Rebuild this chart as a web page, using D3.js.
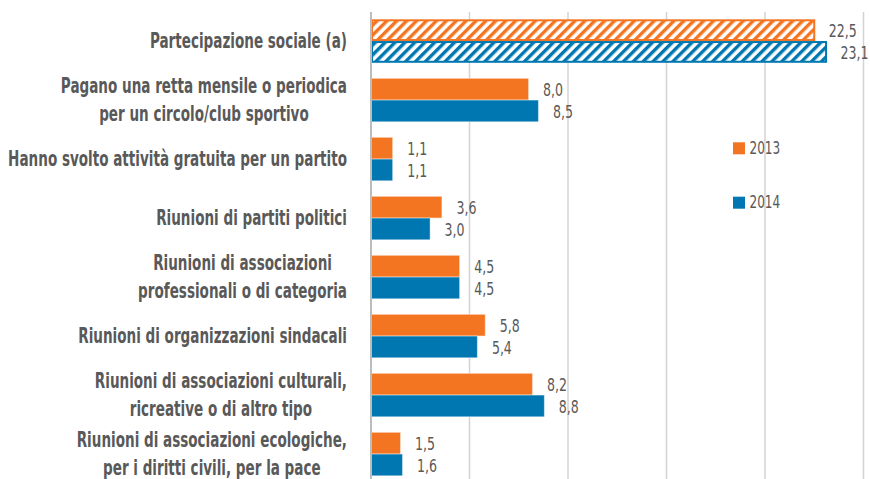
<!DOCTYPE html>
<html>
<head>
<meta charset="utf-8">
<script src="https://cdn.jsdelivr.net/npm/d3@7"></script>
<style>
  html, body { margin: 0; padding: 0; background: #fff; }
  svg { display: block; }
</style>
</head>
<body>
<svg id="chart" width="870" height="479"></svg>
<script>
// Social participation indicators, 2013 vs 2014 (percentages)
const categories = [
  "Partecipazione sociale (a)",
  "Pagano una retta mensile o periodica\nper un circolo/club sportivo",
  "Hanno svolto attività gratuita per un partito",
  "Riunioni di partiti politici",
  "Riunioni di associazioni\nprofessionali o di categoria",
  "Riunioni di organizzazioni sindacali",
  "Riunioni di associazioni culturali,\nricreative o di altro tipo",
  "Riunioni di associazioni ecologiche,\nper i diritti civili, per la pace"
];
const series = ["2013", "2014"];
const values2013 = [22.5, 8.0, 1.1, 3.6, 4.5, 5.8, 8.2, 1.5];
const values2014 = [23.1, 8.5, 1.1, 3.0, 4.5, 5.4, 8.8, 1.6];
const xTicks = [0, 5, 10, 15, 20, 25];

const colors = { "2013": "#F47521", "2014": "#0077B0" };
const textColor = "#595959";
const valueFmt = v => d3.format(".1f")(v).replace(".", ",");
const font = "'Liberation Sans Narrow', 'DejaVu Sans Condensed', sans-serif";

const rows = categories.map((c, i) => ({
  category: c,
  values: [
    { key: "2013", value: values2013[i] },
    { key: "2014", value: values2014[i] }
  ],
  hatched: i === 0
}));

const svg = d3.select("#chart");

// measure a string to derive a horizontal compression factor for condensed lettering
function compression(sample, size, weight, target) {
  const t = svg.append("text")
    .attr("font-family", font).attr("font-weight", weight).attr("font-size", size)
    .text(sample);
  const w = t.node().getComputedTextLength();
  t.remove();
  return target / w;
}
const labelSx = compression(categories[2], 21, "bold", 339);
const valueSx = compression("22,5", 18, "normal", 28);
const legendSx = compression("2013", 18, "normal", 30.7);

const x = d3.scaleLinear().domain([0, 25]).range([371, 863.5]);
const y = d3.scaleBand()
  .domain(categories)
  .range([11.55, 483.55])
  .paddingInner(0.263)
  .paddingOuter(0.1315);
const ySub = d3.scaleBand().domain(series).range([0, y.bandwidth()]).padding(0);

// diagonal hatch patterns for the aggregate indicator
const defs = svg.append("defs");
series.forEach(s => {
  const p = defs.append("pattern")
    .attr("id", "hatch-" + s)
    .attr("patternUnits", "userSpaceOnUse")
    .attr("width", 7).attr("height", 7)
    .attr("patternTransform", "rotate(45)");
  p.append("rect").attr("width", 7).attr("height", 7).attr("fill", "#fff");
  p.append("rect").attr("x", 0).attr("width", 3.4).attr("height", 7).attr("fill", colors[s]);
});

// vertical gridlines
svg.append("g")
  .selectAll("line")
  .data(xTicks.filter(t => t > 0))
  .join("line")
  .attr("x1", d => x(d)).attr("x2", d => x(d))
  .attr("y1", 12).attr("y2", 479)
  .attr("stroke", "#d3d3d3")
  .attr("stroke-width", 1.5);

// bars and value labels
const groups = svg.append("g")
  .selectAll("g")
  .data(rows)
  .join("g")
  .attr("transform", d => `translate(0,${y(d.category)})`);

groups.each(function (row) {
  const g = d3.select(this);
  row.values.forEach(v => {
    if (row.hatched) {
      g.append("rect")
        .attr("x", x(0) + 1)
        .attr("y", ySub(v.key) + 1)
        .attr("width", x(v.value) - x(0) - 1)
        .attr("height", ySub.bandwidth() - 2)
        .attr("fill", `url(#hatch-${v.key})`)
        .attr("stroke", colors[v.key])
        .attr("stroke-width", 2);
    } else {
      g.append("rect")
        .attr("x", x(0))
        .attr("y", ySub(v.key))
        .attr("width", x(v.value) - x(0))
        .attr("height", ySub.bandwidth())
        .attr("fill", colors[v.key])
        .attr("stroke", "#fff")
        .attr("stroke-opacity", 0.45)
        .attr("stroke-width", 1);
    }
    g.append("g")
      .attr("transform", `translate(${x(v.value) + 14.5},${ySub(v.key) + ySub.bandwidth() / 2 + 2}) scale(${valueSx},1)`)
      .append("text")
      .attr("dominant-baseline", "middle")
      .attr("font-family", font)
      .attr("font-size", 18)
      .attr("fill", textColor)
      .text(valueFmt(v.value));
  });
});

// axis line at zero
svg.append("line")
  .attr("x1", x(0)).attr("x2", x(0))
  .attr("y1", 12).attr("y2", 479)
  .attr("stroke", "#bdbdbd")
  .attr("stroke-width", 2);

// category labels (bold condensed, right edge aligned, multi-line blocks centred)
const labelRight = 347;
const lineGap = 28.5;

const labels = svg.append("g")
  .selectAll("g")
  .data(categories)
  .join("g")
  .attr("transform", d => `translate(${labelRight},${y(d) + y.bandwidth() / 2})`)
  .append("g")
  .attr("transform", `scale(${labelSx},1)`);

labels.each(function (d) {
  const g = d3.select(this);
  const lines = d.split("\n");
  const texts = lines.map((line, i) =>
    g.append("text")
      .attr("font-family", font)
      .attr("font-weight", "bold")
      .attr("font-size", 21)
      .attr("fill", textColor)
      .attr("dominant-baseline", "middle")
      .attr("y", (i - (lines.length - 1) / 2) * lineGap + 1)
      .text(line)
  );
  if (lines.length === 1) {
    texts[0].attr("text-anchor", "end").attr("x", 0);
  } else {
    const maxW = d3.max(texts, t => t.node().getComputedTextLength());
    texts.forEach(t => t.attr("text-anchor", "middle").attr("x", -maxW / 2));
  }
});

// legend
const legend = svg.append("g")
  .selectAll("g")
  .data(series)
  .join("g")
  .attr("transform", (d, i) => `translate(733,${142.3 + i * 54.4})`);
legend.append("rect")
  .attr("width", 12).attr("height", 12)
  .attr("fill", d => colors[d]);
legend.append("g")
  .attr("transform", `translate(16.5,6.5) scale(${legendSx},1)`)
  .append("text")
  .attr("dominant-baseline", "middle")
  .attr("font-family", font)
  .attr("font-size", 18)
  .attr("fill", textColor)
  .text(d => d);
</script>
</body>
</html>
